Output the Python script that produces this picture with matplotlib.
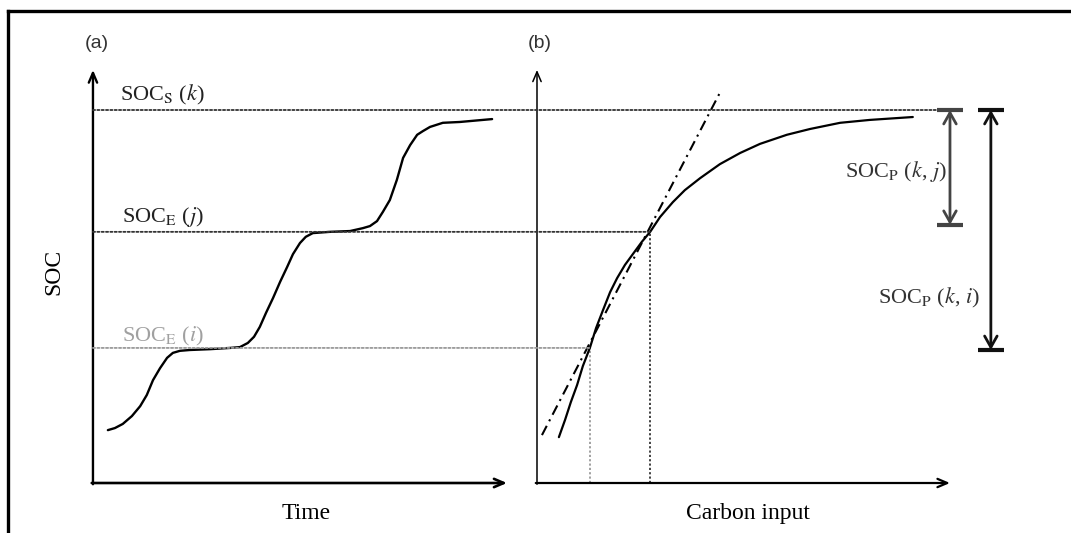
import numpy as np
import matplotlib
matplotlib.use("Agg")
import matplotlib.pyplot as plt
from matplotlib.patches import ConnectionPatch
from matplotlib.lines import Line2D

plt.rcParams['font.family'] = ['Liberation Serif', 'DejaVu Serif']
plt.rcParams['mathtext.fontset'] = 'stix'

# ---- data (arbitrary units, axis arrows at 100) ----
soc_k = 90.3   # SOC_S (k)
soc_j = 60.8   # SOC_E (j)
soc_i = 32.7   # SOC_E (i)

# (a) SOC over time, step-wise approach to equilibrium
time_x = [3.6, 5.3, 7.2, 9.4, 11.4, 13.0, 14.5, 16.2, 17.9, 19.3, 21.0, 23.4, 28.3,
          33.1, 35.5, 37.4, 38.9, 40.3, 41.8, 43.5, 45.2, 46.9, 48.3, 50.0, 51.4,
          53.1, 57.2, 62.1, 65.2, 66.9, 68.6, 70.0, 71.7, 73.4, 74.9, 76.6, 78.3,
          79.7, 81.4, 84.5, 88.6, 96.4]
time_soc = [12.8, 13.3, 14.3, 16.2, 18.6, 21.3, 24.9, 27.8, 30.3, 31.5, 32.0, 32.2, 32.4,
            32.7, 32.9, 33.9, 35.4, 37.8, 41.2, 44.8, 48.7, 52.3, 55.4, 58.1, 59.6,
            60.5, 60.8, 61.0, 61.7, 62.2, 63.4, 65.6, 68.5, 73.4, 78.7, 81.8, 84.3,
            85.2, 86.2, 87.2, 87.4, 88.1]

# (b) SOC against carbon input
carbon_x = [5.3, 6.8, 8.2, 9.7, 11.1, 12.8, 14.3, 16.0, 17.7, 19.4, 21.3, 23.2, 25.4,
            27.4, 29.8, 32.9, 35.8, 39.5, 44.3, 49.2, 54.0, 60.5, 66.1, 73.4, 80.6, 91.0]
carbon_soc = [11.1, 15.3, 19.6, 23.7, 28.3, 32.7, 37.5, 41.9, 46.2, 49.6, 52.8, 55.4, 58.4,
              60.8, 64.4, 68.0, 70.9, 73.8, 77.2, 79.9, 82.1, 84.3, 85.7, 87.2, 87.9, 88.6]

# secant through points i and j
secant_x = [1.2, 44.3]
secant_y = [11.6, 94.5]

# carbon input at i and j
cin_i = 12.8
cin_j = 27.4
top_line_end = 96.9

# brackets on the right (x position, bottom level)
bracket_x = [100.0, 109.9]
bracket_bottom = [62.5, 32.2]
bracket_colors = ['#444444', '#111111']
bracket_labels = [r'SOC$_{\mathrm{P}}$ ($k$, $j$)', r'SOC$_{\mathrm{P}}$ ($k$, $i$)']
bracket_label_x = [99.3, 107.3]
bracket_label_y = [75.3, 44.8]

fig = plt.figure(figsize=(10.71, 5.33), dpi=100)
ax_a = fig.add_axes([0.0868, 0.0938, 0.3866, 0.775])
ax_b = fig.add_axes([0.5014, 0.0938, 0.3856, 0.775])

for ax in (ax_a, ax_b):
    ax.set_xlim(0, 100)
    ax.set_ylim(0, 100)
    ax.axis('off')


# axes with arrows
def draw_axes(ax, lw_x, lw_y):
    ax.annotate('', xy=(100, 0), xytext=(-0.3, 0), annotation_clip=False,
                arrowprops=dict(arrowstyle='->,head_length=0.7,head_width=0.3',
                                lw=lw_x, color='black', shrinkA=0, shrinkB=0))
    ax.annotate('', xy=(0, 100), xytext=(0, -0.3), annotation_clip=False,
                arrowprops=dict(arrowstyle='->,head_length=0.7,head_width=0.3',
                                lw=lw_y, color='black', shrinkA=0, shrinkB=0))


draw_axes(ax_a, 1.9, 1.7)
draw_axes(ax_b, 1.6, 1.1)

dot = (0, (1.2, 1.2))

# horizontal reference lines running across both panels
for level, xend, col in [(soc_k, top_line_end, '#333333'),
                         (soc_j, cin_j, '#333333'),
                         (soc_i, cin_i, '#9a9a9a')]:
    con = ConnectionPatch(xyA=(0, level), coordsA=ax_a.transData,
                          xyB=(xend, level), coordsB=ax_b.transData,
                          linestyle=dot, lw=1.3, color=col)
    fig.add_artist(con)

# vertical reference lines in (b)
ax_b.plot([cin_i, cin_i], [0, soc_i], linestyle=dot, lw=1.3, color='#9a9a9a', clip_on=False)
ax_b.plot([cin_j, cin_j], [0, soc_j], linestyle=dot, lw=1.3, color='#333333', clip_on=False)

# curves
ax_a.plot(time_x, time_soc, color='black', lw=1.7, solid_capstyle='round',
          solid_joinstyle='round', clip_on=False)
ax_b.plot(carbon_x, carbon_soc, color='black', lw=1.6, solid_capstyle='round',
          solid_joinstyle='round', clip_on=False)
ax_b.plot(secant_x, secant_y, color='black', lw=1.5, linestyle=(0, (5, 2.5, 1, 2.5)), clip_on=False)

# brackets
for bx, bb, col in zip(bracket_x, bracket_bottom, bracket_colors):
    ax_b.annotate('', xy=(bx, bb), xytext=(bx, soc_k), annotation_clip=False,
                  arrowprops=dict(arrowstyle='<->,head_length=0.8,head_width=0.45',
                                  lw=2.0, color=col, shrinkA=0, shrinkB=0))
    for level in (soc_k, bb):
        ax_b.plot([bx - 3.2, bx + 3.2], [level, level], color=col, lw=3.0,
                  solid_capstyle='butt', clip_on=False)

for lab, lx, ly in zip(bracket_labels, bracket_label_x, bracket_label_y):
    ax_b.text(lx, ly, lab, ha='right', va='center', fontsize=16, color='#333333')

# level labels in (a)
ax_a.text(6.5, 94.0, r'SOC$_{\mathrm{S}}$ ($k$)', ha='left', va='center', fontsize=16, color='#222222')
ax_a.text(7.0, 64.4, r'SOC$_{\mathrm{E}}$ ($j$)', ha='left', va='center', fontsize=16, color='#222222')
ax_a.text(7.0, 35.4, r'SOC$_{\mathrm{E}}$ ($i$)', ha='left', va='center', fontsize=16, color='#a0a0a0')

# axis labels
ax_a.text(51.5, -7.3, 'Time', ha='center', va='center', fontsize=17)
ax_b.text(51.1, -7.3, 'Carbon input', ha='center', va='center', fontsize=17)
ax_a.text(-9.4, 51, 'SOC', ha='center', va='center', rotation=90, fontsize=17)

# panel tags
ax_a.text(1.0, 106.3, '(a)', ha='center', va='center', fontsize=14,
          family=['Liberation Sans Narrow', 'Liberation Sans', 'DejaVu Sans'], color='#333333')
ax_b.text(0.7, 106.3, '(b)', ha='center', va='center', fontsize=14,
          family=['Liberation Sans Narrow', 'Liberation Sans', 'DejaVu Sans'], color='#333333')

# outer frame (top and left edges)
fig.add_artist(Line2D([8 / 1071, 1.0], [1 - 11 / 533, 1 - 11 / 533], color='black', lw=2.4,
                      transform=fig.transFigure))
fig.add_artist(Line2D([8 / 1071, 8 / 1071], [0.0, 1 - 11 / 533], color='black', lw=2.4,
                      transform=fig.transFigure))

fig.savefig('out.png', dpi=100)
